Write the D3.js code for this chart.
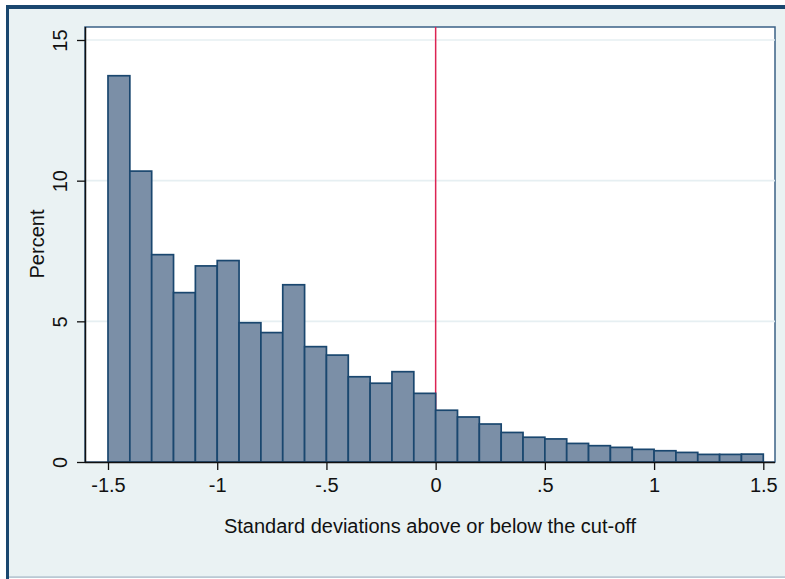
<!DOCTYPE html>
<html>
<head>
<meta charset="utf-8">
<script src="https://cdn.jsdelivr.net/npm/d3@7"></script>
<style>
  html, body { margin: 0; padding: 0; background: #ffffff; }
  svg { display: block; }
  text { font-family: "Liberation Sans", Arial, sans-serif; fill: #111; }
</style>
</head>
<body>
<svg id="chart" width="785" height="579"></svg>
<script>
// ---- data ----
const binStarts = [-1.5, -1.4, -1.3, -1.2, -1.1, -1.0, -0.9, -0.8, -0.7, -0.6,
                   -0.5, -0.4, -0.3, -0.2, -0.1, 0.0, 0.1, 0.2, 0.3, 0.4,
                   0.5, 0.6, 0.7, 0.8, 0.9, 1.0, 1.1, 1.2, 1.3, 1.4];
const binWidth = 0.1;
const percents = [13.73, 10.34, 7.37, 6.02, 6.97, 7.16, 4.95, 4.60, 6.30, 4.10,
                  3.80, 3.03, 2.80, 3.21, 2.44, 1.84, 1.60, 1.35, 1.05, 0.88,
                  0.82, 0.66, 0.58, 0.52, 0.45, 0.40, 0.34, 0.27, 0.27, 0.28];
const xTicks = [-1.5, -1, -0.5, 0, 0.5, 1, 1.5];
const xTickLabels = ["-1.5", "-1", "-.5", "0", ".5", "1", "1.5"];
const yTicks = [0, 5, 10, 15];
const yTickLabels = ["0", "5", "10", "15"];
const cutoff = [0];
const xTitle = "Standard deviations above or below the cut-off";
const yTitle = "Percent";

// ---- layout ----
const svg = d3.select("#chart");
const plot = { left: 85, right: 775, top: 27, bottom: 462 };
const x = d3.scaleLinear().domain([-1.5, 1.5]).range([108, 763.3]);
const y = d3.scaleLinear().domain([0, 15]).range([462, 40]);

// outer background & frame
svg.append("rect").attr("x", 9).attr("y", 9).attr("width", 776).attr("height", 568).attr("fill", "#eaf2f3");
svg.append("rect").attr("x", 6).attr("y", 5).attr("width", 779).attr("height", 4).attr("fill", "#1a476f");
svg.append("rect").attr("x", 6).attr("y", 5).attr("width", 3).attr("height", 574).attr("fill", "#1a476f");
svg.append("rect").attr("x", 9).attr("y", 576.5).attr("width", 776).attr("height", 1.2).attr("fill", "#9db2c2");

// plot region
svg.append("rect").attr("x", plot.left).attr("y", plot.top)
  .attr("width", plot.right - plot.left).attr("height", plot.bottom - plot.top)
  .attr("fill", "#ffffff").attr("stroke", "#3b6286").attr("stroke-width", 1.5);

// gridlines
svg.append("g").selectAll("line").data(yTicks.filter(d => d > 0)).join("line")
  .attr("x1", plot.left).attr("x2", plot.right)
  .attr("y1", d => y(d)).attr("y2", d => y(d))
  .attr("stroke", "#e6eff2").attr("stroke-width", 1.6);

// cutoff line (under bars)
svg.append("g").selectAll("line").data(cutoff).join("line")
  .attr("x1", d => x(d)).attr("x2", d => x(d))
  .attr("y1", plot.top).attr("y2", plot.bottom)
  .attr("stroke", "#dc2453").attr("stroke-width", 1.5);

// bars
svg.append("g").selectAll("rect").data(binStarts).join("rect")
  .attr("x", d => x(d))
  .attr("width", d => x(d + binWidth) - x(d))
  .attr("y", (d, i) => y(percents[i]))
  .attr("height", (d, i) => y(0) - y(percents[i]))
  .attr("fill", "#7b8fa7")
  .attr("stroke", "#1a476f")
  .attr("stroke-width", 1.7);

// x axis
const xAxis = d3.axisBottom(x).tickValues(xTicks)
  .tickFormat((d, i) => xTickLabels[i]).tickSize(8).tickPadding(8);
const gx = svg.append("g").attr("transform", `translate(0,${plot.bottom})`).call(xAxis);
gx.select(".domain").attr("d", `M${plot.left},0.5H${plot.right}`).attr("stroke", "#111").attr("stroke-width", 1.5);
gx.selectAll(".tick line").attr("stroke", "#111").attr("stroke-width", 1.3);
gx.selectAll(".tick text").attr("font-size", 20).attr("fill", "#111")
  .attr("font-family", "Liberation Sans, Arial, sans-serif");

// y axis
const yAxis = d3.axisLeft(y).tickValues(yTicks)
  .tickFormat((d, i) => yTickLabels[i]).tickSize(8).tickPadding(0);
const gy = svg.append("g").attr("transform", `translate(${plot.left},0)`).call(yAxis);
gy.select(".domain").attr("d", `M0.5,${plot.top}V${plot.bottom}`).attr("stroke", "#111").attr("stroke-width", 1.5);
gy.selectAll(".tick line").attr("stroke", "#111").attr("stroke-width", 1.3);
gy.selectAll(".tick text")
  .attr("font-size", 20).attr("fill", "#111")
  .attr("font-family", "Liberation Sans, Arial, sans-serif")
  .attr("x", null).attr("dy", null)
  .attr("text-anchor", "middle")
  .attr("transform", "translate(-18,0) rotate(-90)")
  .attr("y", 0);

// titles
svg.append("text").attr("x", (plot.left + plot.right) / 2).attr("y", 533)
  .attr("text-anchor", "middle").attr("font-size", 20).text(xTitle);
svg.append("text").attr("transform", "translate(44,244) rotate(-90)")
  .attr("text-anchor", "middle").attr("font-size", 20).text(yTitle);
</script>
</body>
</html>
